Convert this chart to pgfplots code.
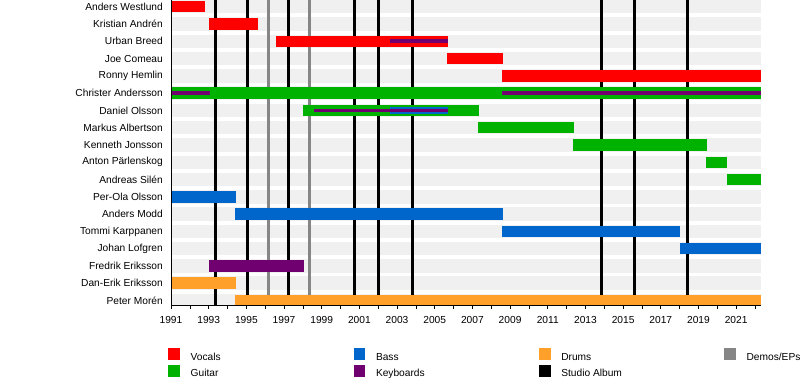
\documentclass[border=0pt]{standalone}
\usepackage{fontspec}
\setmainfont{Liberation Sans}
\usepackage{pgfplots}
\pgfplotsset{compat=1.18}
\definecolor{cvoc}{HTML}{FF0000}
\definecolor{cgui}{HTML}{00B200}
\definecolor{cbas}{HTML}{0066CC}
\definecolor{ckey}{HTML}{700070}
\definecolor{cdrm}{HTML}{FFA02B}
\definecolor{cdem}{HTML}{868686}
\definecolor{cstripe}{HTML}{F0F0F0}
\newcommand{\E}{2022.32}
\newcommand{\swatch}[1]{\addlegendimage{legend image code/.code={\fill[#1,draw=none] (0pt,0pt) rectangle (11.7pt,12pt); \path[draw=none,fill=none] (0pt,-3pt) rectangle (22.4pt,12pt);}}}
\begin{document}
\begin{tikzpicture}[x=1pt,y=1pt]
\path[use as bounding box] (0,0) rectangle (800,386);
\begin{axis}[
  scale only axis, width=590pt, height=305.7pt,
  at={(171pt,80.3pt)}, anchor=south west,
  xmin=1991, xmax=2022.32, ymin=-0.30, ymax=17.39,
  axis x line*=bottom, axis y line*=left,
  axis on top,
  font=\fontsize{10.2}{12}\selectfont,
  /pgf/number format/assume math mode=true,
  xtick={1991,1993,...,2021}, minor xtick={1992,1994,...,2022},
  xtick align=outside, major tick length=3pt, minor tick length=3pt,
  x tick label style={/pgf/number format/1000 sep=, yshift=-4pt},
  xtick style={black, line width=0.6pt},
  ytick={0,...,17},
  yticklabels={Peter Morén, Dan-Erik Eriksson, Fredrik Eriksson, Johan Lofgren, Tommi Karppanen, Anders Modd, Per-Ola Olsson, Andreas Silén, Anton Pärlenskog, Kenneth Jonsson, Markus Albertson, Daniel Olsson, Christer Andersson, Ronny Hemlin, Joe Comeau, Urban Breed, Kristian Andrén, Anders Westlund},
  ytick style={draw=none},
  y tick label style={anchor=east, inner sep=0pt, xshift=-8pt},
  axis line style={black, line width=0.6pt},
  legend columns=4,
  legend cell align=left,
  legend style={draw=none, fill=none, inner sep=0pt, outer sep=0pt,
    at={(axis description cs:-0.00458,-0.1394)}, anchor=north west,
    cells={anchor=base west}, nodes={inner sep=0pt}, row sep=1.5pt, column sep=0pt},
]
% background stripes
\pgfplotsinvokeforeach{0,...,17}{
  \addplot[cstripe, line width=13.5pt, forget plot] coordinates {(1991,#1) (\E,#1)};
}
% studio albums
\pgfplotsinvokeforeach{1993.34,1995.05,1997.23,2000.73,2002.0,2003.82,2013.87,2015.6,2018.42}{
  \addplot[black, line width=3pt, forget plot] coordinates {(#1,-0.5) (#1,17.6)};
}
% demos / EPs
\pgfplotsinvokeforeach{1996.17,1998.35}{
  \addplot[cdem, line width=2.6pt, forget plot] coordinates {(#1,-0.5) (#1,17.6)};
}
% vocals
\addplot[cvoc, line width=11.5pt, forget plot] coordinates {(1991,17) (1992.8,17)};
\addplot[cvoc, line width=11.5pt, forget plot] coordinates {(1993.03,16) (1995.6,16)};
\addplot[cvoc, line width=11.5pt, forget plot] coordinates {(1996.58,15) (2005.7,15)};
\addplot[cvoc, line width=11.5pt, forget plot] coordinates {(2005.67,14) (2008.6,14)};
\addplot[cvoc, line width=11.5pt, forget plot] coordinates {(2008.58,13) (\E,13)};
% guitar
\addplot[cgui, line width=11.5pt, forget plot] coordinates {(1991,12) (\E,12)};
\addplot[cgui, line width=11.5pt, forget plot] coordinates {(1998.03,11) (2007.36,11)};
\addplot[cgui, line width=11.5pt, forget plot] coordinates {(2007.3,10) (2012.39,10)};
\addplot[cgui, line width=11.5pt, forget plot] coordinates {(2012.35,9) (2019.45,9)};
\addplot[cgui, line width=11.5pt, forget plot] coordinates {(2019.41,8) (2020.53,8)};
\addplot[cgui, line width=11.5pt, forget plot] coordinates {(2020.53,7) (\E,7)};
% bass
\addplot[cbas, line width=11.5pt, forget plot] coordinates {(1991,6) (1994.45,6)};
\addplot[cbas, line width=11.5pt, forget plot] coordinates {(1994.4,5) (2008.6,5)};
\addplot[cbas, line width=11.5pt, forget plot] coordinates {(2008.58,4) (2018.03,4)};
\addplot[cbas, line width=11.5pt, forget plot] coordinates {(2018.0,3) (\E,3)};
% keyboards
\addplot[ckey, line width=11.5pt, forget plot] coordinates {(1993.02,2) (1998.06,2)};
% drums
\addplot[cdrm, line width=11.5pt, forget plot] coordinates {(1991,1) (1994.45,1)};
\addplot[cdrm, line width=11.5pt, forget plot] coordinates {(1994.4,0) (\E,0)};
% overlays
\addplot[cbas, line width=7pt, forget plot] coordinates {(2002.6,11) (2005.7,11)};
\addplot[ckey, line width=3.8pt, forget plot] coordinates {(2002.6,15) (2005.7,15)};
\addplot[ckey, line width=3.8pt, forget plot] coordinates {(1991,12) (1993.07,12)};
\addplot[ckey, line width=3.8pt, forget plot] coordinates {(2008.58,12) (\E,12)};
\addplot[ckey, line width=3.8pt, forget plot] coordinates {(1998.6,11) (2005.7,11)};
% legend
\swatch{cvoc}\addlegendentry{\makebox[162.9pt][l]{Vocals}}
\swatch{cbas}\addlegendentry{\makebox[162.9pt][l]{Bass}}
\swatch{cdrm}\addlegendentry{\makebox[162.9pt][l]{Drums}}
\swatch{cdem}\addlegendentry{\makebox[50pt][l]{Demos/EPs}}
\swatch{cgui}\addlegendentry{\makebox[162.9pt][l]{Guitar}}
\swatch{ckey}\addlegendentry{\makebox[162.9pt][l]{Keyboards}}
\swatch{black}\addlegendentry{\makebox[162.9pt][l]{Studio Album}}
\end{axis}
\end{tikzpicture}
\end{document}
